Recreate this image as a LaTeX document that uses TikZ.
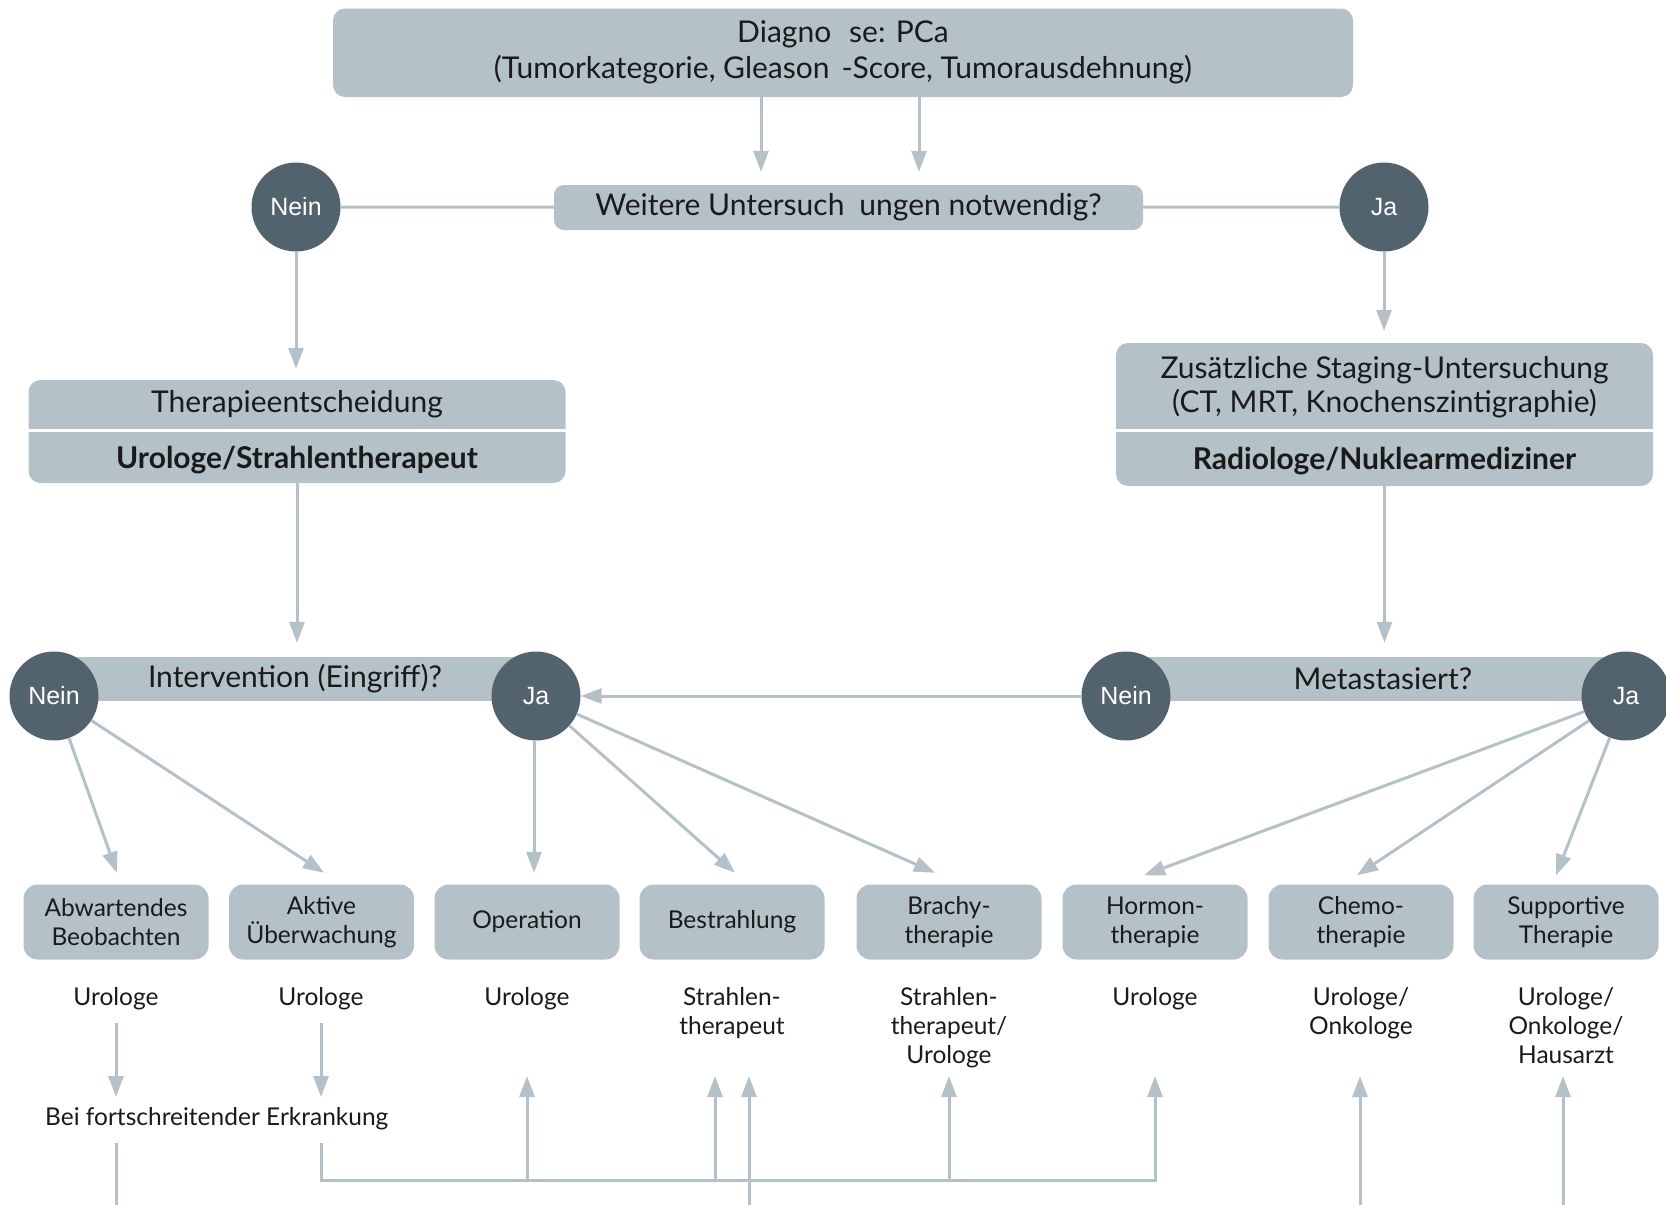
\documentclass[tikz,border=0pt]{standalone}
\usepackage{fontspec}
\setmainfont{Lato}
\newfontfamily\circfont{Liberation Sans}
\usetikzlibrary{arrows.meta}
\definecolor{boxc}{HTML}{B4C1C9}
\definecolor{circc}{HTML}{52636E}
\definecolor{linec}{HTML}{B4C1C9}
\definecolor{txtc}{HTML}{1A1A1A}
\begin{document}
\begin{tikzpicture}[x=1pt,y=-1pt,
  bigbox/.style={fill=boxc, rounded corners=12pt, inner sep=0pt, text=txtc, font=\fontsize{30}{36}\selectfont, align=center},
  bigtxt/.style={inner sep=0pt, text=txtc, font=\fontsize{30}{34}\selectfont, align=center},
  bar/.style={fill=boxc, inner sep=0pt, minimum height=44pt, text=txtc, font=\fontsize{30}{34}\selectfont},
  dec/.style={circle, fill=circc, minimum size=89pt, inner sep=0pt, text=white, font=\circfont\fontsize{25}{28}\selectfont},
  tbox/.style={fill=boxc, rounded corners=14pt, minimum width=185pt, minimum height=75pt, inner sep=0pt, align=center, text=txtc, font=\fontsize{24.5}{29}\selectfont},
  resp/.style={anchor=north, align=center, text=txtc, font=\fontsize{24.5}{29}\selectfont, inner sep=0pt},
  conn/.style={draw=linec, line width=3pt},
  arr/.style={conn, -{Triangle[width=15pt,length=21pt]}},
]
\useasboundingbox (0,0) rectangle (1666,1205);

% top
\node[bigbox, minimum width=1020pt, minimum height=88.5pt] (diag) at (843,52.75)
  {Diagno\hspace{0.6em}se: PCa\\(Tumorkategorie, Gleason\hspace{0.4em}-Score, Tumorausdehnung)};
\node[bigbox, rounded corners=10pt, minimum width=589pt, minimum height=45pt] (weit) at (848.5,207.5)
  {Weitere Untersuch\hspace{0.5em}ungen notwendig?};
\node[dec] (n1) at (296,207) {Nein};
\node[dec] (j1) at (1384,207) {Ja};
\draw[conn] (n1) -- (weit);
\draw[conn] (weit) -- (j1);
\draw[arr, shorten >=13pt] ([xshift=-82pt]diag.south) -- ([xshift=-87.5pt]weit.north);
\draw[arr, shorten >=13pt] ([xshift=76pt]diag.south) -- ([xshift=70.5pt]weit.north);

% second row boxes
\node[fill=boxc, rounded corners=12pt, minimum width=537pt, minimum height=103pt, inner sep=0pt] (ther) at (297,431.5) {};
\draw[white, line width=3pt] ([yshift=1.5pt]ther.west) -- ([yshift=1.5pt]ther.east);
\node[bigtxt] (therA) at (297,404) {Therapieentscheidung};
\node[bigtxt, font=\bfseries\fontsize{30}{34}\selectfont] (therB) at (297,460) {Urologe/Strahlentherapeut};

\node[fill=boxc, rounded corners=12pt, minimum width=537pt, minimum height=143pt, inner sep=0pt] (zus) at (1384.5,414.5) {};
\draw[white, line width=3pt] ([yshift=-15.5pt]zus.west) -- ([yshift=-15.5pt]zus.east);
\node[bigtxt] (zusA) at (1384.5,387.5) {Zus\"atzliche Staging-Untersuchung\\(CT, MRT, Knochenszintigraphie)};
\node[bigtxt, font=\bfseries\fontsize{30}{34}\selectfont] (zusB) at (1384.5,461) {Radiologe/Nuklearmediziner};

\draw[arr, shorten >=11pt] (n1.south) -- (n1.south |- ther.north);
\draw[arr, shorten >=12pt] (j1.south) -- (j1.south |- zus.north);

% decision bars
\node[bar, minimum width=482pt] (intq) at (295,679) {Intervention (Eingriff)?};
\node[bar, minimum width=500pt] (metq) at (1376,679) {\hspace{14pt}Metastasiert?};
\node[dec] (n2) at (54,696) {Nein};
\node[dec] (j2) at (536,696) {Ja};
\node[dec] (n3) at (1126,696) {Nein};
\node[dec] (j3) at (1626,696) {Ja};
\draw[arr, shorten >=14pt] (ther.south) -- (ther.south |- intq.north);
\draw[arr, shorten >=14pt] (zus.south) -- (zus.south |- metq.north);
\draw[arr] (n3) -- (j2);

% therapy boxes
\node[tbox] (b1) at (116,922) {Abwartendes\\Beobachten};
\node[tbox] (b2) at (321.5,922) {Aktive\\\"Uberwachung};
\node[tbox] (b3) at (527,922) {Operation};
\node[tbox] (b4) at (732,922) {Bestrahlung};
\node[tbox] (b5) at (949,922) {Brachy-\\therapie};
\node[tbox] (b6) at (1155,922) {Hormon-\\therapie};
\node[tbox] (b7) at (1361,922) {Chemo-\\therapie};
\node[tbox] (b8) at (1566,922) {Supportive\\Therapie};

\draw[arr] (n2) -- ([xshift=1pt,yshift=11.5pt]b1.north);
\draw[arr] (n2) -- ([xshift=2.5pt,yshift=11.5pt]b2.north);
\draw[arr] ([xshift=-2pt]j2.south) -- ([xshift=7pt,yshift=11.5pt]b3.north);
\draw[arr] (j2) -- ([xshift=3pt,yshift=11.5pt]b4.north);
\draw[arr] (j2) -- ([xshift=-14pt,yshift=11.5pt]b5.north);
\draw[arr] (j3) -- ([xshift=-11pt,yshift=9pt]b6.north);
\draw[arr] (j3) -- ([xshift=-4pt,yshift=9pt]b7.north);
\draw[arr] (j3) -- ([xshift=-10pt,yshift=9pt]b8.north);

% responsible
\node[resp] (r1) at (116,987) {Urologe};
\node[resp] (r2) at (321,987) {Urologe};
\node[resp] (r3) at (527,987) {Urologe};
\node[resp] (r4) at (732,987) {Strahlen-\\therapeut};
\node[resp] (r5) at (949,987) {Strahlen-\\therapeut/\\Urologe};
\node[resp] (r6) at (1155,987) {Urologe};
\node[resp] (r7) at (1361,987) {Urologe/\\Onkologe};
\node[resp] (r8) at (1566,987) {Urologe/\\Onkologe/\\Hausarzt};

\node[anchor=west, inner sep=0pt, text=txtc, font=\fontsize{24.5}{29}\selectfont] (bei) at (45,1119) {Bei fortschreitender Erkrankung};

% bottom network
\coordinate (d1) at (116,1097);
\coordinate (d2) at (321,1097);
\coordinate (s1) at (116,1143);
\coordinate (s2) at (321,1143);
\coordinate (e1) at (116,1210);
\coordinate (h2) at (321,1180);
\coordinate (h3) at (527,1180);
\coordinate (h4) at (715,1180);
\coordinate (h5) at (949,1180);
\coordinate (h6) at (1155,1180);
\coordinate (t3) at (527,1076);
\coordinate (t4a) at (715,1076);
\coordinate (t4b) at (749,1076);
\coordinate (t5) at (949,1076);
\coordinate (t6) at (1155,1076);
\coordinate (t7) at (1360,1076);
\coordinate (t8) at (1563,1076);
\coordinate (e4) at (749,1210);
\coordinate (e7) at (1360,1210);
\coordinate (e8) at (1563,1210);

\draw[arr, shorten <=13pt] (r1.south) -- (d1);
\draw[arr, shorten <=13pt] (r2.south) -- (d2);
\draw[conn] (s1) -- (e1);
\draw[arr] (s2) -- (h2) -- (h6) -- (t6);
\draw[arr] (h3) -- (t3);
\draw[arr] (h4) -- (t4a);
\draw[arr] (h5) -- (t5);
\draw[arr] (e4) -- (t4b);
\draw[arr] (e7) -- (t7);
\draw[arr] (e8) -- (t8);
\end{tikzpicture}
\end{document}
